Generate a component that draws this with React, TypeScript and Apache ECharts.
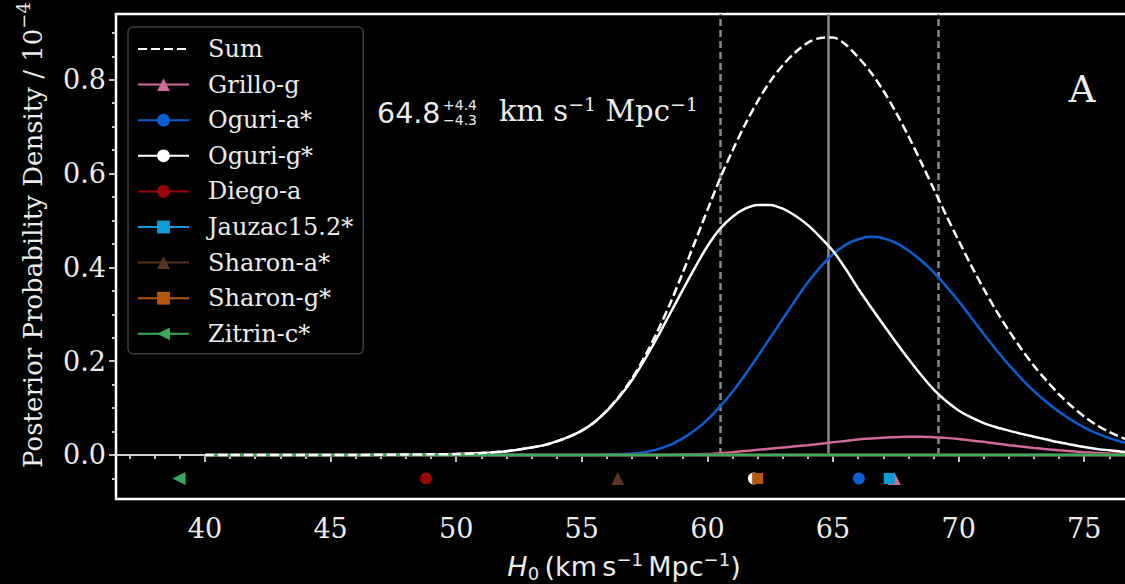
import React, { useEffect, useRef } from "react";
import * as echarts from "echarts";

// ---------- data ----------
const h0Grid = [40, 41, 42, 43, 44, 45, 46, 47, 48, 49, 50, 51, 52, 53, 53.5, 54, 54.5, 55, 55.5, 56, 56.5, 57, 57.5, 58, 58.5, 59, 59.5, 60, 60.5, 61, 61.5, 62, 62.5, 63, 63.5, 64, 64.5, 65, 65.5, 66, 66.5, 67, 67.5, 68, 68.5, 69, 69.5, 70, 70.5, 71, 71.5, 72, 72.5, 73, 73.5, 74, 74.5, 75, 75.5, 76, 76.5, 77];
const sumDensity = [0, 0, 0, 0, 0, 0, 0, 0.0005, 0.001, 0.0015, 0.002, 0.004, 0.008, 0.016, 0.021, 0.029, 0.039, 0.052, 0.07, 0.095, 0.126, 0.163, 0.209, 0.262, 0.321, 0.386, 0.4535, 0.522, 0.589, 0.649, 0.7045, 0.754, 0.7965, 0.831, 0.8585, 0.879, 0.889, 0.89, 0.875, 0.848, 0.816, 0.777, 0.731, 0.68, 0.625, 0.568, 0.5115, 0.457, 0.404, 0.354, 0.3075, 0.265, 0.226, 0.19, 0.1585, 0.129, 0.104, 0.082, 0.0635, 0.049, 0.037, 0.027];
const oguriGDensity = [0, 0, 0, 0, 0, 0, 0, 0.0005, 0.001, 0.0015, 0.002, 0.004, 0.008, 0.016, 0.021, 0.029, 0.039, 0.052, 0.07, 0.094, 0.124, 0.16, 0.203, 0.25, 0.3, 0.35, 0.399, 0.445, 0.482, 0.508, 0.525, 0.533, 0.533, 0.525, 0.51, 0.49, 0.464, 0.435, 0.397, 0.355, 0.316, 0.278, 0.241, 0.205, 0.171, 0.14, 0.115, 0.095, 0.08, 0.068, 0.059, 0.052, 0.045, 0.039, 0.033, 0.027, 0.022, 0.017, 0.013, 0.01, 0.007, 0.005];
const oguriADensity = [0, 0, 0, 0, 0, 0, 0, 0, 0, 0, 0, 0, 0, 0, 0, 0, 0, 0, 0, 0.001, 0.002, 0.003, 0.006, 0.012, 0.021, 0.035, 0.053, 0.075, 0.103, 0.135, 0.171, 0.21, 0.25, 0.29, 0.33, 0.368, 0.401, 0.428, 0.448, 0.46, 0.465, 0.462, 0.452, 0.436, 0.415, 0.39, 0.36, 0.328, 0.293, 0.258, 0.224, 0.192, 0.163, 0.136, 0.113, 0.092, 0.074, 0.059, 0.046, 0.036, 0.028, 0.021];
const grilloGDensity = [0, 0, 0, 0, 0, 0, 0, 0, 0, 0, 0, 0, 0, 0, 0, 0, 0, 0, 0, 0, 0, 0, 0, 0, 0, 0.001, 0.0015, 0.002, 0.004, 0.006, 0.0085, 0.011, 0.0135, 0.016, 0.0185, 0.021, 0.024, 0.027, 0.03, 0.033, 0.035, 0.037, 0.038, 0.039, 0.039, 0.038, 0.0365, 0.034, 0.031, 0.028, 0.0245, 0.021, 0.018, 0.015, 0.0125, 0.01, 0.008, 0.006, 0.0045, 0.003, 0.002, 0.001];
// models whose weighted posterior stays at ~0 on this scale
const flatGrid = [40, 77];
const flatDensity = [0, 0];

const modelNames = ["Grillo-g", "Oguri-a*", "Oguri-g*", "Diego-a", "Jauzac15.2*", "Sharon-a*", "Sharon-g*", "Zitrin-c*"];
const modelMedians = [67.44, 66.03, 61.85, 48.8, 67.24, 56.43, 62.0, 38.97];
const markerRowY = -0.05;

const ciLower = 60.5;
const ciMedian = 64.8;
const ciUpper = 69.2;

const xMajorTicks = [40, 45, 50, 55, 60, 65, 70, 75];
const xMinorTicks = [37, 38, 39, 41, 42, 43, 44, 46, 47, 48, 49, 51, 52, 53, 54, 56, 57, 58, 59, 61, 62, 63, 64, 66, 67, 68, 69, 71, 72, 73, 74, 76, 77];
const yMajorTicks = [0, 0.2, 0.4, 0.6, 0.8];
const yMinorTicks = [-0.05, 0.05, 0.1, 0.15, 0.25, 0.3, 0.35, 0.45, 0.5, 0.55, 0.65, 0.7, 0.75, 0.85, 0.9];

// ---------- styles ----------
const modelColors = ["#cf6a98", "#0b5ed2", "#ffffff", "#9a0606", "#0f9bd7", "#5b3321", "#b5570d", "#3aab5d"];
const modelSymbols = ["triangle", "circle", "circle", "circle", "rect", "triangle", "rect", "triangle"];
const modelRotate = [0, 0, 0, 0, 0, 0, 0, 90];
const X_MIN = 36.46;
const X_MAX = 77.1;
const Y_MIN = -0.0938;
const Y_MAX = 0.9401;
const SERIF = "DejaVu Serif";
const SANS = "DejaVu Sans";
const FG = "#ececec";
const CHART_W = 1150;

function pairs(xs: number[], ys: number[]) {
  return xs.map((x, i) => [x, ys[i]]);
}

export default function App() {
  const ref = useRef<HTMLDivElement>(null);
  useEffect(() => {
    if (!ref.current) return;
    const chart = echarts.init(ref.current, undefined, { renderer: "svg" });

    const curveData: Record<string, number[][]> = {
      "Grillo-g": pairs(h0Grid, grilloGDensity),
      "Oguri-a*": pairs(h0Grid, oguriADensity),
      "Oguri-g*": pairs(h0Grid, oguriGDensity),
    };

    const lineSeries: any[] = modelNames.map((name, i) => ({
      name,
      type: "line",
      data: curveData[name] || pairs(flatGrid, flatDensity),
      smooth: 0.3,
      showSymbol: false,
      symbol: modelSymbols[i],
      symbolRotate: modelRotate[i],
      lineStyle: { color: modelColors[i], width: 2.5 },
      itemStyle: { color: modelColors[i] },
      z: 2,
      silent: true,
    }));

    // zero line and credible-interval lines, attached to the first model series
    lineSeries[0].markLine = {
      silent: true,
      symbol: "none",
      z: 1,
      label: { show: false },
      data: [
        [
          { coord: [X_MIN, 0], lineStyle: { color: "#d0d0d0", width: 2, type: "solid" } },
          { coord: [X_MAX, 0] },
        ],
        [
          { coord: [ciLower, 0], lineStyle: { color: "#8a8a8a", width: 2.5, type: [7, 4] } },
          { coord: [ciLower, Y_MAX] },
        ],
        [
          { coord: [ciMedian, 0], lineStyle: { color: "#8a8a8a", width: 2.5, type: "solid" } },
          { coord: [ciMedian, Y_MAX] },
        ],
        [
          { coord: [ciUpper, 0], lineStyle: { color: "#8a8a8a", width: 2.5, type: [7, 4] } },
          { coord: [ciUpper, Y_MAX] },
        ],
      ],
    };

    const sumSeries = {
      name: "Sum",
      type: "line",
      data: pairs(h0Grid, sumDensity),
      smooth: 0.3,
      showSymbol: false,
      symbol: "none",
      lineStyle: { color: "#ffffff", width: 2.5, type: [9, 4] },
      itemStyle: { color: "#ffffff" },
      z: 3,
      silent: true,
    };

    const markerSeries = modelNames.map((name, i) => ({
      name,
      type: "scatter",
      data: [[modelMedians[i], markerRowY]],
      symbol: modelSymbols[i],
      symbolRotate: modelRotate[i],
      symbolSize: modelSymbols[i] === "rect" ? 11 : modelSymbols[i] === "triangle" ? 13 : 12,
      itemStyle: { color: modelColors[i], opacity: 1 },
      z: 4,
      silent: true,
    }));

    const tickLine = { color: "#ffffff", width: 1.5 };
    const labelStyle = { color: FG, fontFamily: SERIF, fontSize: 27 };

    const option: any = {
      animation: false,
      backgroundColor: "#000000",
      grid: {
        left: 116,
        right: CHART_W - 1137,
        top: 14,
        bottom: 85,
        show: true,
        borderColor: "#ffffff",
        borderWidth: 2.5,
        backgroundColor: "transparent",
      },
      xAxis: [
        {
          type: "value",
          min: X_MIN,
          max: X_MAX,
          axisLine: { show: false },
          splitLine: { show: false },
          axisTick: { show: true, customValues: xMajorTicks, length: 7, lineStyle: tickLine },
          axisLabel: { ...labelStyle, customValues: xMajorTicks, margin: 16, formatter: (v: number) => String(v) },
        },
        {
          type: "value",
          min: X_MIN,
          max: X_MAX,
          position: "bottom",
          axisLine: { show: false },
          splitLine: { show: false },
          axisLabel: { show: false },
          axisTick: { show: true, customValues: xMinorTicks, length: 4, lineStyle: tickLine },
        },
      ],
      yAxis: [
        {
          type: "value",
          min: Y_MIN,
          max: Y_MAX,
          axisLine: { show: false },
          splitLine: { show: false },
          axisTick: { show: true, customValues: yMajorTicks, length: 7, lineStyle: tickLine },
          axisLabel: { ...labelStyle, customValues: yMajorTicks, margin: 10, formatter: (v: number) => v.toFixed(1) },
        },
        {
          type: "value",
          min: Y_MIN,
          max: Y_MAX,
          position: "left",
          axisLine: { show: false },
          splitLine: { show: false },
          axisLabel: { show: false },
          axisTick: { show: true, customValues: yMinorTicks, length: 4, lineStyle: tickLine },
        },
      ],
      legend: {
        orient: "vertical",
        left: 128,
        top: 27,
        padding: [10, 10, 8, 9],
        itemWidth: 51,
        itemHeight: 16,
        itemGap: 11.6,
        backgroundColor: "rgba(0,0,0,0.85)",
        borderColor: "#3c3c3c",
        borderWidth: 1.5,
        borderRadius: 5,
        textStyle: { color: FG, fontFamily: SERIF, fontSize: 24, padding: [0, 0, 0, 14] },
        selectedMode: false,
        data: [
          { name: "Sum", itemStyle: { color: "rgba(0,0,0,0)", borderWidth: 0 } },
          ...modelNames.map((n) => ({ name: n })),
        ],
      },
      graphic: [
        {
          type: "text",
          x: 30,
          y: 235,
          rotation: Math.PI / 2,
          style: {
            text: "{a|Posterior Probability Density / 10}{s|\u22124}",
            fill: FG,
            align: "center",
            verticalAlign: "middle",
            rich: {
              a: { fontFamily: SERIF, fontSize: 26, fill: FG, lineHeight: 32, verticalAlign: "bottom" },
              s: { fontFamily: SERIF, fontSize: 18, fill: FG, lineHeight: 32, verticalAlign: "top" },
            },
          },
        },
        {
          type: "text",
          x: 624,
          y: 566,
          style: {
            text: "{h|H}{b|0}{n|\u2009(km\u2009s}{p|\u22121}{n|\u2009Mpc}{p|\u22121}{n|)}",
            fill: FG,
            align: "center",
            verticalAlign: "middle",
            rich: {
              h: { fontFamily: SANS, fontStyle: "italic", fontSize: 27, fill: FG, lineHeight: 32, verticalAlign: "middle" },
              b: { fontFamily: SANS, fontSize: 18, fill: FG, lineHeight: 32, verticalAlign: "bottom" },
              n: { fontFamily: SANS, fontSize: 27, fill: FG, lineHeight: 32, verticalAlign: "middle" },
              p: { fontFamily: SANS, fontSize: 18, fill: FG, lineHeight: 32, verticalAlign: "top" },
            },
          },
        },
        {
          type: "text",
          x: 377,
          y: 113,
          style: { text: "64.8", fontFamily: SANS, fontSize: 28.5, fill: FG, verticalAlign: "middle", align: "left" },
        },
        {
          type: "text",
          x: 443,
          y: 112,
          style: { text: "+4.4", fontFamily: SANS, fontSize: 14, fill: FG, verticalAlign: "bottom", align: "left" },
        },
        {
          type: "text",
          x: 443,
          y: 113,
          style: { text: "\u22124.3", fontFamily: SANS, fontSize: 14, fill: FG, verticalAlign: "top", align: "left" },
        },
        {
          type: "text",
          x: 499,
          y: 111,
          style: {
            text: "{u|km s}{p|\u22121}{u| Mpc}{p|\u22121}",
            fill: FG,
            align: "left",
            verticalAlign: "middle",
            rich: {
              u: { fontFamily: SERIF, fontSize: 29, fill: FG, lineHeight: 34, verticalAlign: "middle" },
              p: { fontFamily: SERIF, fontSize: 19, fill: FG, lineHeight: 34, verticalAlign: "top" },
            },
          },
        },
        {
          type: "text",
          x: 1082,
          y: 89,
          style: { text: "A", fontFamily: SERIF, fontSize: 37, fill: FG, align: "center", verticalAlign: "middle" },
        },
      ],
      series: [...lineSeries, sumSeries, ...markerSeries],
    };

    chart.setOption(option);
    return () => chart.dispose();
  }, []);

  return (
    <div style={{ position: "fixed", left: 0, top: 0, width: 1125, height: 584, background: "#000", overflow: "hidden" }}>
      <div ref={ref} style={{ width: CHART_W, height: 584 }} />
    </div>
  );
}
